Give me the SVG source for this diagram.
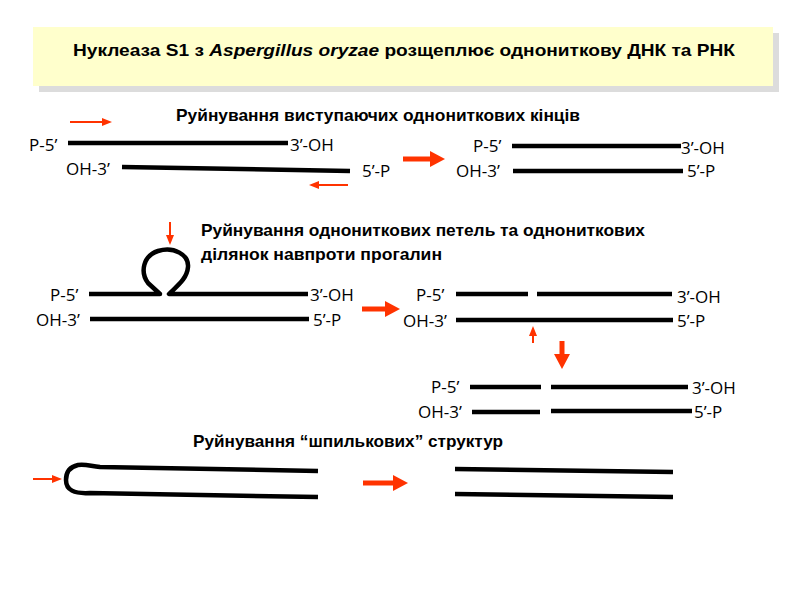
<svg xmlns="http://www.w3.org/2000/svg" width="800" height="600" viewBox="0 0 800 600">
<defs>
<marker id="hs" markerUnits="userSpaceOnUse" markerWidth="10" markerHeight="8" refX="0" refY="4" orient="auto" viewBox="0 0 10 8"><path d="M0 0 L10 4 L0 8 z" fill="#ff3300"/></marker>
<marker id="hb" markerUnits="userSpaceOnUse" markerWidth="15" markerHeight="16" refX="0" refY="8" orient="auto" viewBox="0 0 15 16"><path d="M0 0 L15 8 L0 16 z" fill="#ff3300"/></marker>
</defs>
<style>
.s{stroke:#000;stroke-width:4.5;fill:none}
.lp{stroke:#000;stroke-width:4.5;fill:none;stroke-linejoin:round}
.lb{font-family:"Open Sans","Liberation Sans",Arial,sans-serif;font-size:17px;fill:#000}
.h{font-family:"Liberation Sans",Arial,sans-serif;font-size:17px;font-weight:bold;fill:#000}
.as{stroke:#ff3300;stroke-width:2;fill:none;marker-end:url(#hs)}
.ab{stroke:#ff3300;stroke-width:5;fill:none;marker-end:url(#hb)}
</style>
<rect width="800" height="600" fill="#fff"/>
<g id="title">
<rect x="39" y="33" width="740" height="59" fill="#dcdcdc"/>
<rect x="33" y="27" width="740" height="59" fill="#ffffcc"/>
<text class="h" x="73" y="56" font-size="18" textLength="662" lengthAdjust="spacingAndGlyphs">Нуклеаза S1 з <tspan font-style="italic">Aspergillus oryzae</tspan> розщеплює однониткову ДНК та РНК</text>
</g>
<g id="headings">
<text class="h" x="176" y="121" textLength="404" lengthAdjust="spacingAndGlyphs">Руйнування виступаючих однониткових кінців</text>
<text class="h" x="201" y="236" textLength="444" lengthAdjust="spacingAndGlyphs">Руйнування однониткових петель та однониткових</text>
<text class="h" x="201" y="260" textLength="241" lengthAdjust="spacingAndGlyphs">ділянок навпроти прогалин</text>
<text class="h" x="193" y="447" textLength="310" lengthAdjust="spacingAndGlyphs">Руйнування “шпилькових” структур</text>
</g>
<g id="overhang">
<line class="s" x1="68" y1="143" x2="288" y2="143"/>
<path class="s" d="M122 167 L350 171"/>
<text class="lb" x="29" y="151">P-5’</text>
<text class="lb" x="290" y="151">3’-OH</text>
<text class="lb" x="66" y="175">OH-3’</text>
<text class="lb" x="362" y="177">5’-P</text>
</g>
<g id="overhang-result">
<line class="s" x1="512" y1="146" x2="681" y2="146"/>
<line class="s" x1="513" y1="171" x2="683" y2="171"/>
<text class="lb" x="473" y="152">P-5’</text>
<text class="lb" x="681" y="154">3’-OH</text>
<text class="lb" x="456" y="177">OH-3’</text>
<text class="lb" x="687" y="177">5’-P</text>
</g>
<g id="loop">
<path class="lp" d="M89 294 L160 294 L148 283 C140 272 143 256 158 251 C174 246 189 255 188 267 C187 279 177 286 169 294 L308 294"/>
<line class="s" x1="90" y1="319" x2="309" y2="319"/>
<text class="lb" x="50" y="301">P-5’</text>
<text class="lb" x="310" y="301">3’-OH</text>
<text class="lb" x="36" y="326">OH-3’</text>
<text class="lb" x="313" y="326">5’-P</text>
</g>
<g id="gap">
<line class="s" x1="456" y1="294" x2="528" y2="294"/>
<line class="s" x1="537" y1="294" x2="672" y2="294"/>
<line class="s" x1="456" y1="320" x2="673" y2="320"/>
<text class="lb" x="416" y="301">P-5’</text>
<text class="lb" x="677" y="303">3’-OH</text>
<text class="lb" x="403" y="327">OH-3’</text>
<text class="lb" x="677" y="327">5’-P</text>
</g>
<g id="cut">
<line class="s" x1="470" y1="387" x2="541" y2="387"/>
<line class="s" x1="551" y1="387" x2="688" y2="387"/>
<line class="s" x1="472" y1="412" x2="540" y2="412"/>
<line class="s" x1="551" y1="411" x2="692" y2="411"/>
<text class="lb" x="431" y="393">P-5’</text>
<text class="lb" x="692" y="394">3’-OH</text>
<text class="lb" x="418" y="418">OH-3’</text>
<text class="lb" x="694" y="418">5’-P</text>
</g>
<g id="hairpin">
<path class="lp" d="M318 471 L100 467 C90 466 86 464 78 465 C69 467 66 473 66 480 C66 490 74 494 90 493 L318 497"/>
</g>
<g id="hairpin-result">
<line class="s" x1="455" y1="469" x2="673" y2="472"/>
<line class="s" x1="455" y1="494" x2="673" y2="497"/>
</g>
<g id="connectors">
<line class="as" x1="70" y1="122" x2="102" y2="122"/>
<line class="as" x1="348" y1="185" x2="319" y2="185"/>
<line class="ab" x1="403" y1="159" x2="430" y2="159"/>
<line class="as" x1="170" y1="222" x2="170" y2="235"/>
<line class="ab" x1="362" y1="309" x2="385" y2="309"/>
<line class="as" x1="533" y1="343" x2="533" y2="336"/>
<line class="ab" x1="562" y1="341" x2="562" y2="354"/>
<line class="as" x1="33" y1="479" x2="52" y2="479"/>
<line class="ab" x1="363" y1="483" x2="393" y2="483"/>
</g>
</svg>
